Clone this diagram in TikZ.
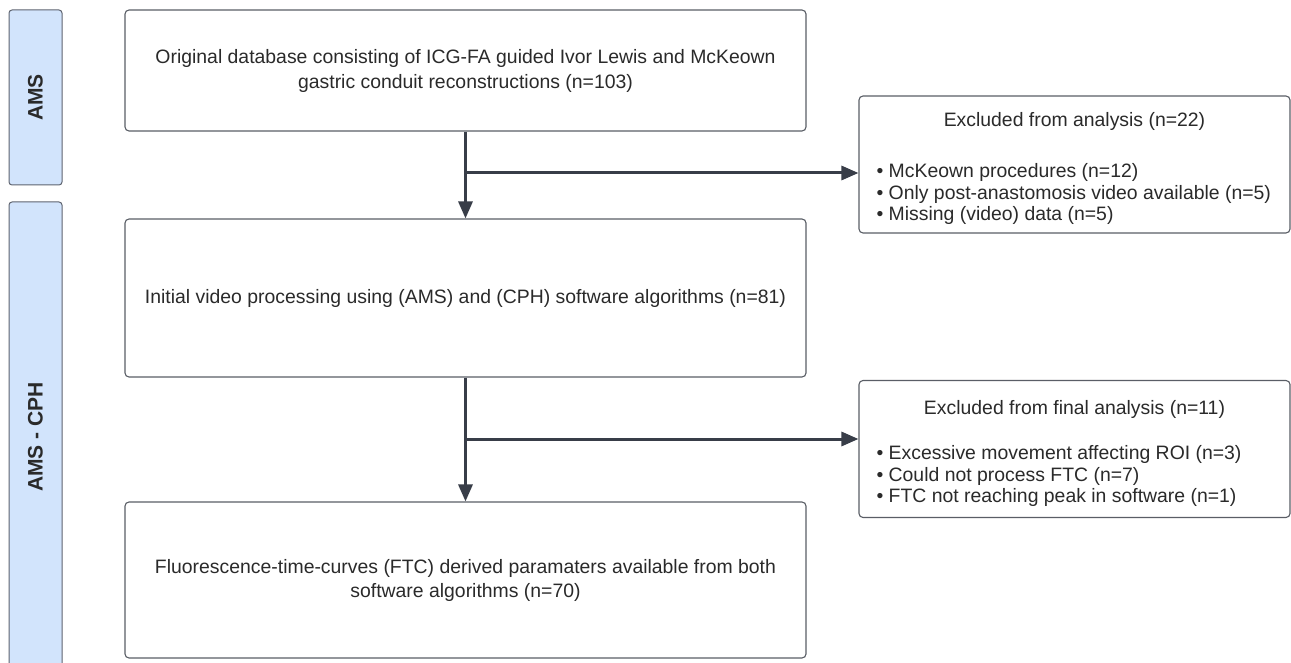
\documentclass[tikz,border=0pt]{standalone}
\usepackage{fontspec}
\setmainfont{Liberation Sans}
\usetikzlibrary{arrows.meta}
\definecolor{lanefill}{HTML}{D2E4FC}
\definecolor{laneborder}{HTML}{5E6470}
\definecolor{boxborder}{HTML}{5A5E66}
\definecolor{arrowcol}{HTML}{383D48}
\definecolor{txt}{HTML}{2A2A2A}
\begin{document}
\begin{tikzpicture}[x=1pt,y=-1pt,
  lane/.style={draw=laneborder,fill=lanefill,line width=1pt,rounded corners=3pt},
  mainbox/.style={draw=boxborder,line width=1.1pt,rounded corners=4pt,minimum width=681pt,inner sep=0pt,fill=white},
  exbox/.style={draw=boxborder,line width=1.1pt,rounded corners=4pt,minimum width=431pt,minimum height=137pt,inner sep=0pt,fill=white},
  maintext/.style={text=txt,align=center,font=\fontsize{19.4}{24.5}\selectfont},
  listtext/.style={text=txt,align=left,anchor=west,font=\fontsize{19.4}{21.5}\selectfont},
  lanetext/.style={text=txt,rotate=90,font=\fontsize{21}{24}\selectfont\bfseries},
  flow/.style={draw=arrowcol,line width=3pt,-{Triangle[length=17pt,width=14pt]}}]
\useasboundingbox (0,0) rectangle (1291,663);
\clip (0,0) rectangle (1291,663);
\fill[white] (0,0) rectangle (1291,663);
% lanes
\draw[lane] (9,10) rectangle (62,185);
\draw[lane] (9,202) rectangle (62,672);
\node[lanetext] (l1) at (35.5,97.5) {AMS};
\node[lanetext] (l2) at (35.5,437) {AMS - CPH};
% main boxes
\node[mainbox,minimum height=121pt] (b1) at (465.5,70.5) {};
\node[mainbox,minimum height=158pt] (b2) at (465.5,298) {};
\node[mainbox,minimum height=156pt] (b3) at (465.5,580) {};
\node[maintext] (t1) at (465.5,71) {Original database consisting of ICG-FA guided Ivor Lewis and McKeown\\gastric conduit reconstructions (n=103)};
\node[maintext] (t2) at (465.5,298) {Initial video processing using (AMS) and (CPH) software algorithms (n=81)};
\node[maintext] (t3) at (465.5,580.5) {Fluorescence-time-curves (FTC) derived paramaters available from both\\software algorithms (n=70)};
% exclusion boxes
\node[exbox] (e1) at (1074.5,164.5) {};
\node[exbox] (e2) at (1074.5,449) {};
\node[maintext] (e1t) at (1074.5,121) {Excluded from analysis (n=22)};
\node[listtext] (e1l) at (873,194) {• McKeown procedures (n=12)\\• Only post-anastomosis video available (n=5)\\• Missing (video) data (n=5)};
\node[maintext] (e2t) at (1074.5,409) {Excluded from final analysis (n=11)};
\node[listtext] (e2l) at (873,476) {• Excessive movement affecting ROI (n=3)\\• Could not process FTC (n=7)\\• FTC not reaching peak in software (n=1)};
% connectors
\coordinate (j1) at (465.5,173);
\coordinate (j2) at (465.5,439);
\draw[flow] (b1.south) -- (b2.north);
\draw[flow] (b2.south) -- (b3.north);
\draw[flow,shorten <=-1.5pt] (j1) -- (j1 -| e1.west);
\draw[flow,shorten <=-1.5pt] (j2) -- (j2 -| e2.west);
\end{tikzpicture}
\end{document}
